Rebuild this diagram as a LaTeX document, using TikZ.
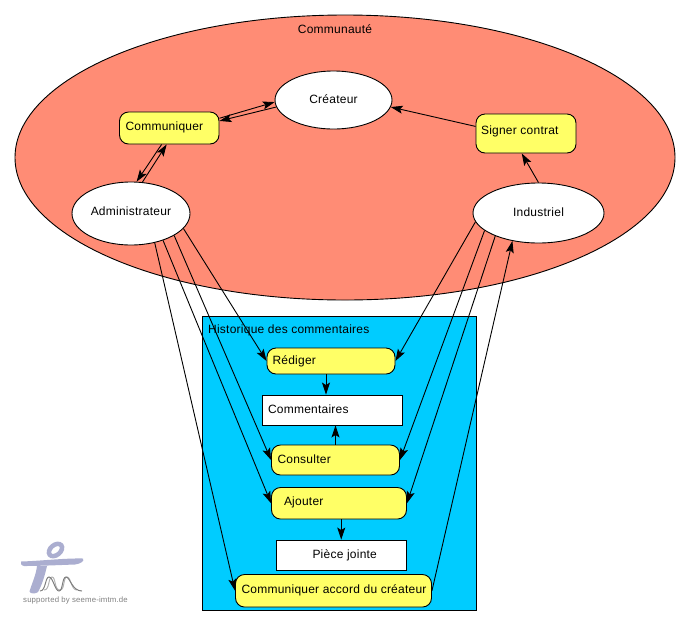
\documentclass[tikz,border=0pt]{standalone}
\usepackage{fontspec}
\setmainfont[LetterSpace=2]{Liberation Sans}
\usetikzlibrary{arrows.meta,shapes.geometric,calc}
\newcommand{\boxtext}[4]{\makebox[#1pt][l]{\hspace*{#2pt}\raisebox{#3pt}{#4}}}
\tikzset{
  every node/.style={font=\fontsize{12}{14}\selectfont,text=black,inner sep=0pt},
  conn/.style={draw=black,line width=0.9pt,-{Stealth[length=12pt,width=8pt,inset=2.5pt]},shorten >=0pt},
  region/.style={draw=black,line width=0.9pt},
  actor/.style={ellipse,draw=black,line width=0.9pt,fill=white},
  action/.style={rectangle,rounded corners=9pt,draw=black,line width=0.9pt,fill=actyellow},
  artefact/.style={rectangle,draw=black,line width=0.9pt,fill=white},
  logo/.style={fill=logoblue,draw=none}
}
\definecolor{salmon}{HTML}{FF8C75}
\definecolor{skyb}{HTML}{00CCFF}
\definecolor{actyellow}{HTML}{FFFF66}
\definecolor{logoblue}{HTML}{ABAED0}
\definecolor{logogrey}{HTML}{808080}
\begin{document}
\begin{tikzpicture}[x=1pt,y=-1pt]
\useasboundingbox (0,0) rectangle (690,625);
% regions
\node[region,ellipse,fill=salmon,minimum width=660pt,minimum height=285pt] (comm) at (345,157.5) {};
\node (commt) at (335,29) {Communauté};
\node[region,rectangle,fill=skyb,minimum width=274pt,minimum height=293.3pt] (hist) at (339.5,463.4) {};
\node[anchor=west] (histt) at (208,330) {Historique des commentaires};
% actors
\node[actor,minimum width=117pt,minimum height=58pt] (crea) at (333.5,100) {\raisebox{2.5pt}{Créateur}};
\node[actor,minimum width=118pt,minimum height=63pt] (admi) at (131,213.5) {\raisebox{5pt}{Administrateur}};
\node[actor,minimum width=131pt,minimum height=60pt] (indu) at (538.5,213) {\raisebox{2.5pt}{Industriel}};
% actions
\node[action,minimum width=99.5pt,minimum height=32pt] (cmq) at (169.25,128) {\boxtext{99.5}{6}{4}{Communiquer}};
\node[action,minimum width=100pt,minimum height=39pt] (sig) at (526,133.5) {\boxtext{100}{5}{7.5}{Signer contrat}};
\node[action,minimum width=128pt,minimum height=26pt] (red) at (331,361) {\boxtext{128}{5.5}{-5}{Rédiger}};
\node[action,minimum width=128pt,minimum height=30pt] (con) at (335.5,460) {\boxtext{128}{6}{1}{Consulter}};
\node[action,minimum width=135pt,minimum height=31.5pt] (ajo) at (339,503.25) {\boxtext{135}{12.5}{3.5}{Ajouter}};
\node[action,minimum width=196pt,minimum height=32.5pt] (acc) at (333.5,590.75) {\boxtext{196}{6}{3.5}{Communiquer accord du créateur}};
% artefacts
\node[artefact,minimum width=140.5pt,minimum height=30pt] (cmt) at (332.25,410) {\boxtext{140.5}{6}{2}{Commentaires}};
\node[artefact,minimum width=130.5pt,minimum height=30.5pt] (pie) at (341.25,555.25) {\boxtext{130.5}{36.5}{1}{Pièce jointe}};
% connectors
\coordinate (redout) at ($(red.south)+(-5,0)$);
\draw[conn] (cmq.11) -- (crea.182);
\draw[conn] (crea.187) -- (cmq.8);
\draw[conn] (cmq.245) -- (admi.80);
\draw[conn] (admi.70) -- (cmq.261);
\draw[conn] (sig.172.6) -- (crea.-7);
\draw[conn] (indu.90) -- (sig.258);
\draw[conn] (admi.-16) -- (red.west);
\draw[conn] (admi.-27) -- (con.west);
\draw[conn] (admi.-40) -- (ajo.west);
\draw[conn] (admi.-51) -- (acc.west);
\draw[conn] (indu.188.7) -- (red.east);
\draw[conn] (indu.198) -- (con.east);
\draw[conn] (indu.208) -- (ajo.east);
\draw[conn] (acc.east) -- (indu.227.7);
\draw[conn] (redout) -- (redout |- cmt.north);
\draw[conn] (con.north) -- (con.north |- cmt.south);
\draw[conn] (pie.north |- ajo.south) -- (pie.north);
% logo
\begin{scope}
\draw[logoblue,line width=4.5pt,rotate around={40:(55.5,550)}] (55.5,550) ellipse [x radius=7.5pt,y radius=5pt];
\fill[logo] (21,561.5) .. controls (40,561) and (65,558) .. (83,558.5) .. controls (85,561) and (80,564) .. (75,564.5) .. controls (60,565) and (40,566) .. (24,566) .. controls (21,565.5) and (20,563) .. (21,561.5) -- cycle;
\fill[logo] (37,566) -- (47,566) .. controls (45,575) and (42,585) .. (38,592) .. controls (36,594) and (30,594) .. (29.5,591.5) .. controls (32,583) and (36,575) .. (37,566) -- cycle;
\draw[logogrey!60,line width=1pt] (44,590) .. controls (50,590) and (48,577) .. (52,577) .. controls (56,577) and (54,590) .. (60,590) .. controls (65,590) and (63,577) .. (67,577) .. controls (71,577) and (71,590) .. (77,590);
\draw[logogrey,line width=1pt] (40,591) .. controls (46,591) and (45,577) .. (49,577) .. controls (53,577) and (55,591) .. (59,591) .. controls (63,591) and (62,577) .. (66,577) .. controls (70,577) and (72,591) .. (82,591);
\end{scope}
\node[anchor=west,text=logogrey,font=\fontsize{7.8}{10}\selectfont] (logot) at (23,600) {supported by seeme-imtm.de};
\end{tikzpicture}
\end{document}
